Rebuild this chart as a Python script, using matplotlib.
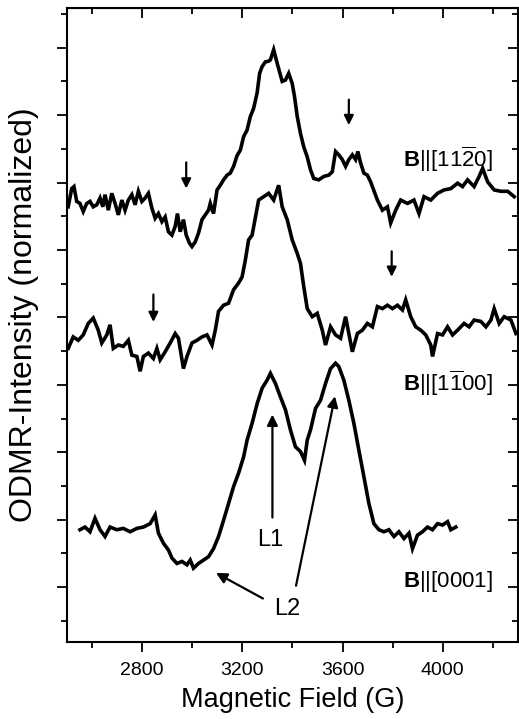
import matplotlib
matplotlib.use("Agg")
import matplotlib.pyplot as plt
from matplotlib.ticker import MultipleLocator, NullFormatter

plt.rcParams["font.family"] = ["Liberation Sans", "DejaVu Sans"]
plt.rcParams["mathtext.fontset"] = "custom"
plt.rcParams["mathtext.rm"] = "Liberation Sans"
plt.rcParams["mathtext.bf"] = "Liberation Sans:bold"

# B || [11-20]  (top trace)
field_1120 = [2505, 2519, 2528, 2539, 2552, 2565, 2579, 2592, 2605, 2619,
              2632, 2643, 2652, 2665, 2679, 2692, 2705, 2719, 2732, 2745,
              2759, 2772, 2785, 2799, 2812, 2825, 2839, 2852, 2865, 2879,
              2892, 2905, 2919, 2932, 2941, 2952, 2965, 2976, 2989, 2999,
              3012, 3025, 3039, 3052, 3065, 3072, 3085, 3099, 3112, 3125,
              3139, 3152, 3165, 3179, 3192, 3205, 3219, 3232, 3245, 3259,
              3269, 3279, 3292, 3305, 3312, 3325, 3339, 3359, 3372, 3385,
              3399, 3408, 3419, 3432, 3445, 3459, 3472, 3485, 3505, 3525,
              3545, 3559, 3572, 3585, 3599, 3612, 3625, 3639, 3652, 3661,
              3672, 3685, 3699, 3712, 3739, 3759, 3779, 3792, 3812, 3832,
              3859, 3885, 3905, 3925, 3952, 3979, 4005, 4032, 4059, 4079,
              4099, 4125, 4145, 4159, 4179, 4205, 4232, 4259, 4285]
signal_1120 = [5.64, 5.91, 5.94, 5.72, 5.69, 5.57, 5.69, 5.72, 5.64, 5.67,
               5.77, 5.64, 5.82, 5.59, 5.84, 5.69, 5.52, 5.74, 5.59, 5.74,
               5.82, 5.67, 5.87, 5.72, 5.77, 5.84, 5.62, 5.47, 5.54, 5.42,
               5.49, 5.27, 5.22, 5.35, 5.54, 5.27, 5.45, 5.22, 5.10, 5.05,
               5.12, 5.25, 5.45, 5.52, 5.59, 5.69, 5.54, 5.89, 5.96, 6.04,
               6.11, 6.14, 6.24, 6.40, 6.48, 6.68, 6.78, 6.98, 7.10, 7.33,
               7.62, 7.72, 7.79, 7.80, 7.82, 7.97, 7.77, 7.50, 7.52, 7.62,
               7.47, 7.28, 6.98, 6.73, 6.53, 6.38, 6.19, 6.06, 6.04, 6.09,
               6.11, 6.16, 6.46, 6.41, 6.34, 6.24, 6.34, 6.41, 6.34, 6.46,
               6.29, 6.14, 6.11, 6.01, 5.74, 5.59, 5.64, 5.40, 5.59, 5.74,
               5.69, 5.74, 5.54, 5.79, 5.74, 5.84, 5.89, 5.91, 5.99, 5.94,
               6.04, 5.94, 6.09, 6.21, 6.01, 5.89, 5.87, 5.87, 5.79]

# B || [1-100]  (middle trace)
field_1100 = [2505, 2525, 2545, 2565, 2585, 2605, 2625, 2639, 2659, 2672, 2685, 2705, 2725,
              2745, 2759, 2779, 2792, 2805, 2825, 2845, 2859, 2872, 2892, 2912, 2932, 2945,
              2965, 2979, 2999, 3019, 3039, 3059, 3079, 3092, 3105, 3125, 3145, 3165, 3185,
              3199, 3212, 3225, 3239, 3265, 3285, 3305, 3325, 3345, 3359, 3379, 3399, 3419,
              3432, 3445, 3459, 3479, 3499, 3519, 3532, 3552, 3572, 3592, 3612, 3625, 3639,
              3659, 3679, 3699, 3719, 3739, 3759, 3779, 3799, 3819, 3839, 3852, 3872, 3892,
              3912, 3932, 3952, 3959, 3979, 3999, 4019, 4039, 4059, 4085, 4105, 4125, 4152,
              4172, 4192, 4205, 4225, 4245, 4272, 4292]
signal_1100 = [3.54, 3.71, 3.66, 3.74, 3.91, 3.99, 3.81, 3.62, 3.74, 3.89, 3.54, 3.59, 3.57,
               3.66, 3.44, 3.42, 3.20, 3.42, 3.47, 3.39, 3.54, 3.37, 3.49, 3.62, 3.76, 3.69,
               3.24, 3.42, 3.62, 3.66, 3.71, 3.74, 3.59, 3.81, 4.09, 4.18, 4.21, 4.41, 4.51,
               4.60, 4.85, 5.15, 5.22, 5.74, 5.79, 5.84, 5.74, 5.96, 5.64, 5.45, 5.15, 4.95,
               4.80, 4.46, 4.13, 4.01, 4.06, 3.81, 3.59, 3.86, 3.74, 3.69, 4.01, 3.76, 3.49,
               3.76, 3.81, 3.91, 3.86, 4.16, 4.13, 4.18, 4.13, 4.18, 4.11, 4.26, 4.01, 3.86,
               3.81, 3.74, 3.59, 3.42, 3.76, 3.74, 3.86, 3.74, 3.81, 3.91, 3.86, 3.96, 3.94,
               3.86, 3.96, 4.13, 3.91, 4.01, 3.96, 3.76]

# B || [0001]  (bottom trace)
field_0001 = [2552, 2572, 2592, 2612, 2632, 2652, 2672, 2699, 2725, 2752, 2779, 2805, 2832,
              2852, 2865, 2885, 2905, 2919, 2939, 2959, 2979, 2992, 3005, 3025, 3045, 3065,
              3085, 3105, 3125, 3145, 3165, 3185, 3205, 3219, 3239, 3259, 3279, 3299, 3312,
              3332, 3352, 3372, 3392, 3412, 3432, 3448, 3459, 3472, 3492, 3512, 3532, 3552,
              3572, 3585, 3605, 3625, 3645, 3665, 3685, 3705, 3725, 3745, 3765, 3785, 3805,
              3825, 3845, 3865, 3879, 3899, 3919, 3939, 3959, 3979, 3999, 4019, 4032, 4052]
signal_0001 = [0.85, 0.89, 0.82, 1.02, 0.85, 0.75, 0.89, 0.85, 0.87, 0.82, 0.87, 0.89, 0.94,
               1.07, 0.80, 0.65, 0.55, 0.43, 0.35, 0.38, 0.33, 0.40, 0.28, 0.35, 0.40, 0.45,
               0.57, 0.75, 0.99, 1.24, 1.49, 1.69, 1.93, 2.18, 2.43, 2.72, 2.95, 3.07, 3.17,
               3.02, 2.82, 2.63, 2.33, 2.08, 2.01, 1.88, 2.18, 2.33, 2.65, 2.77, 3.02, 3.24,
               3.32, 3.27, 3.07, 2.77, 2.43, 2.03, 1.64, 1.24, 0.94, 0.85, 0.82, 0.85, 0.75,
               0.82, 0.72, 0.80, 0.57, 0.77, 0.82, 0.89, 0.85, 0.94, 0.92, 0.97, 0.85, 0.89]

labels = [r"$\mathbf{B}$||[11$\overline{2}$0]", r"$\mathbf{B}$||[1$\overline{1}$00]",
          r"$\mathbf{B}$||[0001]"]
label_y = [6.34, 3.02, 0.08]

fig = plt.figure(figsize=(5.19, 7.19), dpi=100)
ax = fig.add_axes([0.129, 0.107, 0.869, 0.882])

for fx, sy in [(field_1120, signal_1120), (field_1100, signal_1100), (field_0001, signal_0001)]:
    ax.plot(fx, sy, color="black", lw=2.6, solid_joinstyle="miter")

for text, y in zip(labels, label_y):
    ax.text(3840, y, text, fontsize=16, va="center", ha="left")

# small down arrows marking the weak lines
down = dict(arrowstyle="-|>", color="black", lw=1.6, mutation_scale=14)
for x, y0, y1 in [(2976, 6.34, 5.87), (3625, 7.27, 6.81), (2845, 4.38, 3.89), (3796, 5.02, 4.56)]:
    ax.annotate("", xy=(x, y1), xytext=(x, y0), arrowprops=down)

line_arrow = dict(arrowstyle="-|>", color="black", lw=1.6, mutation_scale=16)
ax.annotate("", xy=(3320, 2.60), xytext=(3320, 0.99), arrowprops=line_arrow)
ax.text(3312, 0.70, "L1", fontsize=17, ha="center", va="center")
ax.annotate("", xy=(3085, 0.23), xytext=(3292, -0.19), arrowprops=line_arrow)
ax.annotate("", xy=(3572, 2.87), xytext=(3412, -0.02), arrowprops=line_arrow)
ax.text(3379, -0.32, "L2", fontsize=17, ha="center", va="center")

ax.set_xlim(2500, 4300)
ax.set_ylim(-0.816, 8.59)
ax.xaxis.set_major_locator(MultipleLocator(400))
ax.xaxis.set_minor_locator(MultipleLocator(200))
ax.yaxis.set_major_locator(MultipleLocator(1))
ax.yaxis.set_minor_locator(MultipleLocator(0.5))
ax.yaxis.set_major_formatter(NullFormatter())
ax.tick_params(which="both", direction="out", width=1.3, labelsize=14, pad=7)
ax.tick_params(which="major", length=7)
ax.tick_params(which="minor", length=4)

top = ax.secondary_xaxis("top")
top.xaxis.set_major_locator(MultipleLocator(400))
top.xaxis.set_minor_locator(MultipleLocator(200))
top.tick_params(which="both", direction="in", width=1.3, labeltop=False)
top.tick_params(which="major", length=7)
top.tick_params(which="minor", length=4)
right = ax.secondary_yaxis("right")
right.yaxis.set_major_locator(MultipleLocator(1))
right.yaxis.set_minor_locator(MultipleLocator(0.5))
right.tick_params(which="both", direction="in", width=1.3, labelright=False)
right.tick_params(which="major", length=7)
right.tick_params(which="minor", length=4)

for sp in ax.spines.values():
    sp.set_linewidth(1.5)

ax.set_xlabel("Magnetic Field (G)", fontsize=19.5, labelpad=6)
ax.set_ylabel("ODMR-Intensity (normalized)", fontsize=23)
ax.yaxis.set_label_coords(-0.062, 0.517)

fig.savefig("out.png", dpi=100)
